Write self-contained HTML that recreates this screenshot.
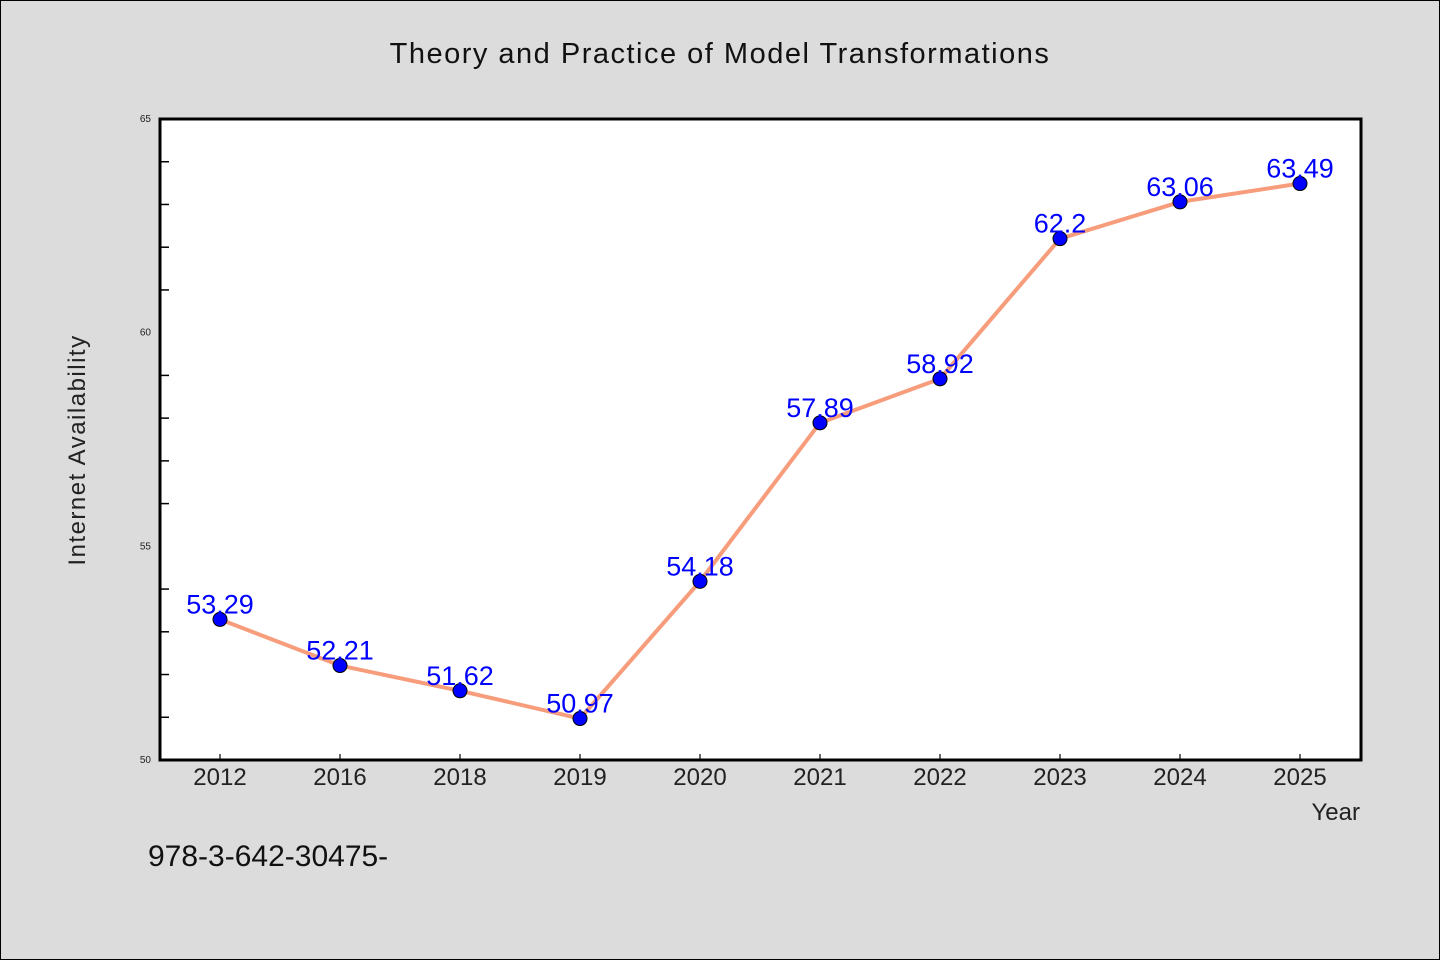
<!DOCTYPE html>
<html><head><meta charset="utf-8"><style>
html,body{margin:0;padding:0;background:#dcdcdc;}
svg{display:block;font-family:"WenQuanYi Zen Hei","Liberation Sans",sans-serif;}
</style></head><body>
<svg id="chart" width="1440" height="960" xmlns="http://www.w3.org/2000/svg">
<rect x="0.5" y="0.5" width="1439" height="959" fill="#dcdcdc" stroke="#000" stroke-width="1"/>
<text x="720" y="63" text-anchor="middle" font-size="29" letter-spacing="1.5" fill="#111">Theory and Practice of Model Transformations</text>
<rect x="160" y="119" width="1201" height="641" fill="#fff"/>
<g id="ticks"></g>
<g id="series"></g>
<rect x="160" y="119" width="1201" height="641" fill="none" stroke="#000" stroke-width="3"/>
<text transform="translate(85,450) rotate(-90)" text-anchor="middle" font-size="24" letter-spacing="1.5" fill="#222">Internet Availability</text>
<text x="1360" y="820" text-anchor="end" font-size="24" fill="#222">Year</text>
<text x="148" y="866" font-size="30" fill="#111">978-3-642-30475-</text>
</svg>
<script>
const categories=["2012","2016","2018","2019","2020","2021","2022","2023","2024","2025"];
const values=[53.29,52.21,51.62,50.97,54.18,57.89,58.92,62.2,63.06,63.49];
const valueLabels=["53.29","52.21","51.62","50.97","54.18","57.89","58.92","62.2","63.06","63.49"];
const yTicks=[50,55,60,65];
const yMin=50,yMax=65;
const NS="http://www.w3.org/2000/svg";
const L=160,R=1361,T=119,B=760;
function yS(v){return B-(v-yMin)/(yMax-yMin)*(B-T);}
function xS(i){return 220+i*120;}
function mk(tag,attrs,parent){const e=document.createElementNS(NS,tag);for(const k in attrs)e.setAttribute(k,attrs[k]);parent.appendChild(e);return e;}
const tg=document.getElementById('ticks');
for(let v=yMin+1;v<yMax;v++){
  if(v%5===0)continue;
  const t=mk('line',{x1:L,x2:L+9,y1:yS(v),y2:yS(v),stroke:'#000','stroke-width':1.5},tg);
  
  
}
yTicks.forEach(v=>{
  const t=mk('text',{x:L-9,y:yS(v)+3,'text-anchor':'end','font-size':10,fill:'#222'},tg);
  t.textContent=v;
  
  
});
categories.forEach((c,i)=>{
  const tk=mk('line',{x1:xS(i),x2:xS(i),y1:B-6,y2:B,stroke:'#000','stroke-width':1.2},tg);
  
  
  const t=mk('text',{x:xS(i),y:785,'text-anchor':'middle','font-size':24,fill:'#222'},tg);
  t.textContent=c;
  
  
});
const sg=document.getElementById('series');
const line=mk('polyline',{points:values.map((v,i)=>xS(i)+','+yS(v)).join(' '),fill:'none',stroke:'#f79d7c','stroke-width':4,'stroke-linejoin':'round'},sg);


values.forEach((v,i)=>{
  const c=mk('circle',{cx:xS(i),cy:yS(v),r:7,fill:'#0000ff',stroke:'#000','stroke-width':1},sg);
  
  
  const t=mk('text',{x:xS(i),y:yS(v)-6,'text-anchor':'middle','font-size':27,fill:'#0000ff'},sg);
  t.textContent=valueLabels[i];
  
  
});
</script>
</body></html>
